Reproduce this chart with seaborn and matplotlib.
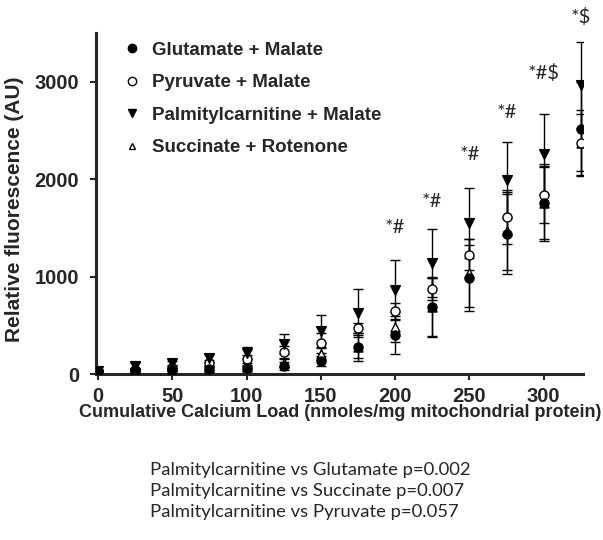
import numpy as np
import pandas as pd
import matplotlib
matplotlib.use('Agg')
import matplotlib.pyplot as plt
import seaborn as sns
from matplotlib.lines import Line2D

# Calcium load points (nmoles/mg mitochondrial protein)
calcium = [0, 25, 50, 75, 100, 125, 150, 175, 200, 225, 250, 275, 300, 325]

# Mean fluorescence (AU)
glutamate = [30, 40, 45, 50, 60, 80, 134, 277, 400, 689, 987, 1439, 1760, 2518]
pyruvate = [30, 40, 62, 113, 154, 226, 319, 473, 648, 873, 1223, 1613, 1840, 2374]
palmityl = [30, 82, 113, 164, 216, 308, 442, 627, 863, 1140, 1550, 1994, 2261, 2970]
succinate = [30, 40, 50, 62, 72, 113, 206, 280, 483, 689, 1038, 1470, 1757, 2374]

# SD error bars
glutamate_sd = [10, 15, 15, 20, 25, 40, 52, 143, 195, 309, 340, 410, 395, 480]
pyruvate_sd = [10, 20, 20, 30, 40, 60, 103, 52, 83, 114, 160, 280, 290, 340]
palmityl_sd = [10, 31, 21, 42, 62, 103, 164, 246, 309, 350, 362, 390, 411, 442]
succinate_sd = [10, 15, 15, 20, 25, 40, 60, 120, 150, 300, 350, 400, 370, 290]

labels = ['Glutamate + Malate', 'Pyruvate + Malate',
          'Palmitylcarnitine + Malate', 'Succinate + Rotenone']

# significance annotations
sig_x = [200, 225, 250, 275, 300, 325]
sig_y = [1500, 1768, 2250, 2682, 3094, 3669]
sig_text = ['*#', '*#', '*#', '*#', '*#$', '*$']

footnote = ['Palmitylcarnitine vs Glutamate p=0.002',
            'Palmitylcarnitine vs Succinate p=0.007',
            'Palmitylcarnitine vs Pyruvate p=0.057']

means = [glutamate, pyruvate, palmityl, succinate]
sds = [glutamate_sd, pyruvate_sd, palmityl_sd, succinate_sd]
markers = ['o', 'o', 'v', '^']
faces = ['black', 'white', 'black', 'white']
msizes = [6.5, 6.5, 7, 6.5]

sns.set_style('ticks')
plt.rcParams['font.family'] = ['Liberation Sans', 'DejaVu Sans']

fig = plt.figure(figsize=(6.03, 5.4), dpi=100)
ax = fig.add_axes([0.160, 0.3074, 0.807, 0.6315])

rows = []
for lab, m, s in zip(labels, means, sds):
    for x, y, e in zip(calcium, m, s):
        rows.append({'calcium': x, 'fluor': y, 'sd': e, 'series': lab})
df = pd.DataFrame(rows)

# error bars first
for lab in labels:
    d = df[df['series'] == lab]
    ax.errorbar(d['calcium'], d['fluor'], yerr=d['sd'], fmt='none',
                ecolor='black', elinewidth=1, capsize=3.6, capthick=1, zorder=2)

# markers
order = [3, 1, 0, 2]
for i in order:
    d = df[df['series'] == labels[i]]
    sns.scatterplot(data=d, x='calcium', y='fluor', marker=markers[i],
                    s=msizes[i] ** 2, color=faces[i], edgecolor='black',
                    linewidth=1, ax=ax, zorder=3, legend=False)

for x, y, t in zip(sig_x, sig_y, sig_text):
    ax.text(x, y, t, ha='center', va='center', fontsize=14.5,
            family=['Lato', 'DejaVu Sans'], clip_on=False)

ax.set_xlim(-1, 326.5)
ax.set_ylim(0, 3500)
ax.set_xticks([0, 50, 100, 150, 200, 250, 300])
ax.set_yticks([0, 1000, 2000, 3000])
ax.set_xlabel('Cumulative Calcium Load (nmoles/mg mitochondrial protein)',
              fontsize=13, fontweight='bold')
ax.set_ylabel('Relative fluorescence (AU)', fontsize=15, fontweight='bold')
ax.xaxis.set_label_coords(0.5, -0.114)
ax.xaxis.label.set_verticalalignment('center')
ax.yaxis.set_label_coords(-0.169, 0.484)
ax.yaxis.label.set_verticalalignment('center')
for lbl in ax.get_xticklabels() + ax.get_yticklabels():
    lbl.set_fontweight('bold')
ax.tick_params(axis='both', labelsize=14.5, width=1.5, length=4)
ax.tick_params(axis='x', pad=5)
ax.tick_params(axis='y', pad=8.5)
sns.despine(ax=ax)
for sp in ['left', 'bottom']:
    ax.spines[sp].set_linewidth(2.2)

handles = [Line2D([], [], linestyle='none', marker=markers[i],
                  markerfacecolor=faces[i], markeredgecolor='black',
                  markersize=[6, 6, 6, 4.5][i]) for i in range(4)]
ax.legend(handles, labels, loc='upper left', bbox_to_anchor=(0.02, 1.024),
          frameon=False, prop={'weight': 'bold', 'size': 13.5},
          handletextpad=0.55, labelspacing=0.82, handlelength=1.0)

fig.text(0.249, 0.0905, '\n'.join(footnote), ha='left', va='center',
         fontsize=13.3, family=['Lato', 'DejaVu Sans'], linespacing=1.4)

fig.savefig('out.png', dpi=100)
